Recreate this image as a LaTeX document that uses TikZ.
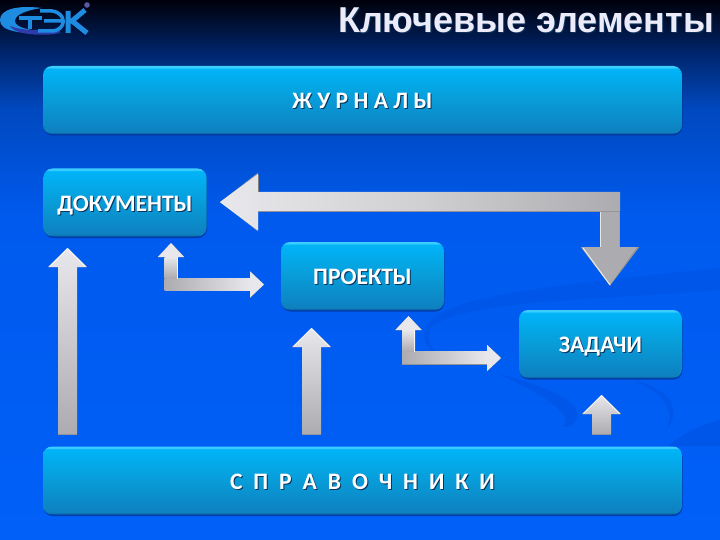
\documentclass[tikz,border=0pt]{standalone}
\usepackage{fontspec}
\setmainfont{Carlito}
\newfontfamily\titlefont{Liberation Sans}
\usetikzlibrary{arrows.meta,shadows}

\definecolor{swoosh}{RGB}{0,86,232}
\definecolor{arrowlight}{RGB}{232,232,236}
\definecolor{arrowmid}{RGB}{208,208,210}
\definecolor{arrowdark}{RGB}{172,172,176}
\definecolor{textshadow}{RGB}{10,50,90}
\definecolor{logoblue}{RGB}{30,140,225}
\definecolor{logodeep}{RGB}{45,60,170}
\definecolor{titletext}{RGB}{235,235,250}
\definecolor{backa}{RGB}{0,96,248}
\definecolor{backb}{RGB}{0,90,238}
\definecolor{backc}{RGB}{0,72,190}
\definecolor{backd}{RGB}{0,38,110}
\definecolor{backe}{RGB}{0,0,10}
\definecolor{boxa}{RGB}{12,98,165}
\definecolor{boxb}{RGB}{14,128,192}
\definecolor{boxc}{RGB}{8,156,216}
\definecolor{boxd}{RGB}{0,180,248}
\definecolor{boxe}{RGB}{60,205,255}
\definecolor{boxshadow}{RGB}{0,50,140}

\pgfdeclareverticalshading{slideback}{100bp}{color(0bp)=(backa); color(25bp)=(backa); color(55bp)=(backb); color(65bp)=(backc); color(70bp)=(backd); color(75bp)=(backe); color(100bp)=(backe)}
\pgfdeclareverticalshading{boxshade}{100bp}{color(0bp)=(boxa); color(25.5bp)=(boxa); color(26.5bp)=(boxb); color(50bp)=(boxc); color(73bp)=(boxd); color(74bp)=(boxe); color(100bp)=(boxe)}

\tikzstyle{slidebox}=[rectangle,rounded corners=9pt,shading=boxshade,minimum height=68pt,inner sep=0pt,text=white,text height=17.5pt,text depth=0pt,font=\fontsize{23.6}{26}\selectfont\bfseries,drop shadow={shadow xshift=0.5pt,shadow yshift=-1.5pt,fill=boxshadow,opacity=0.7}]
\tikzstyle{widebox}=[slidebox,minimum width=639pt]
\tikzstyle{smallbox}=[slidebox,minimum width=163pt]
\tikzstyle{blockline}=[draw=arrowdark!85!black]
\tikzset{sheen/.style={white,line width=1pt,opacity=0.8}}
\newcommand{\shadowed}[1]{\leavevmode\rlap{\color{textshadow}\kern1pt\raisebox{-1pt}{#1}}#1}
\newcommand{\gap}{\hspace{10.9pt}}

\begin{document}
\begin{tikzpicture}[x=1pt,y=-1pt]
  \useasboundingbox (0,0) rectangle (720,540);
  \shade[shading=slideback] (0,0) rectangle (720,540);

  % swooshes
  \fill[swoosh] (428,325) .. controls (440,300) and (520,288) .. (720,268) -- (720,290) .. controls (600,300) and (470,300) .. (432,326) .. controls (424,338) and (430,350) .. (445,358) .. controls (425,350) and (420,338) .. (428,325) -- cycle;
  \fill[swoosh] (497,373) .. controls (540,385) and (582,400) .. (577,417) .. controls (575,425) and (568,428) .. (563,427) .. controls (572,418) and (560,402) .. (497,373) -- cycle;
  \fill[swoosh] (633,380) .. controls (665,388) and (684,405) .. (667,430) .. controls (676,405) and (660,392) .. (633,380) -- cycle;
  \fill[swoosh] (720,420) .. controls (700,425) and (680,435) .. (668,446) -- (720,446) -- cycle;

  % logo
  \fill[logoblue] (42,8) .. controls (18,5) and (0,9) .. (0,20) .. controls (0,31) and (18,35) .. (62,33) .. controls (30,31) and (15,28) .. (15,21) .. controls (15,14) and (28,10) .. (42,8) -- cycle;
  \fill[logodeep] (10,26) .. controls (22,31) and (44,31) .. (60,29) .. controls (62,32) and (58,34) .. (50,34.5) .. controls (30,35.5) and (14,33) .. (10,26) -- cycle;
  \draw[logoblue,line width=4pt] (19,18) -- (42,18) (30,18) -- (30,29);
  \draw[logoblue,line width=3.5pt] (40,11) -- (52,11) .. controls (67,13) and (67,30) .. (52,31) -- (38,31) (44,21) -- (63,21);
  \draw[logoblue,line width=5pt] (68,11) -- (68,33) (85,10) -- (72,21) -- (87,33);
  \fill[gray!70!blue] (87,5) circle (2.8pt);

  \node[anchor=base east,inner sep=0pt,text=titletext,font=\titlefont\bfseries\fontsize{36}{40}\selectfont] (title) at (714,33) {\shadowed{Ключевые элементы}};

  \foreach \x/\y/\name/\label in {362.5/100/journals/{Ж У Р Н А Л Ы}, 362.5/480.5/refs/{С\gap П\gap Р\gap А\gap В\gap О\gap Ч\gap Н\gap И\gap К\gap И}}
          \node[widebox] (\name) at (\x,\y) {\shadowed{\label}};

  \foreach \x/\y/\name/\label in {125/202.5/docs/ДОКУМЕНТЫ, 362.5/276/projects/ПРОЕКТЫ, 600.5/344/tasks/ЗАДАЧИ}
          \node[smallbox] (\name) at (\x,\y) {\shadowed{\label}};

  % straight arrows
  \foreach \x/\ya/\yb/\name in {67.5/435/248/docsup, 311.5/435/328/projup, 601.5/435/395/tasksup}
  {
    \coordinate (\name a) at (\x,\ya);
    \coordinate (\name b) at (\x,\yb);
    \draw[blockline,line width=19pt,-{Triangle[length=19pt,width=38pt]}] (\name a) -- (\name b);
    \shade[top color=arrowlight,bottom color=arrowdark] (\x-9.5,\ya-1) -- (\x-9.5,\yb+19) -- (\x-19,\yb+19) -- (\x,\yb) -- (\x+19,\yb+19) -- (\x+9.5,\yb+19) -- (\x+9.5,\ya-1) -- cycle;
    \draw[sheen] (\x-18,\yb+18.5) -- (\x,\yb+0.5) -- (\x+18,\yb+18.5);
  }

  % long arrow
  \coordinate (longa) at (610,286);
  \coordinate (longb) at (220,202);
  \draw[blockline,line width=20pt,{Triangle[length=39pt,width=56pt]}-{Triangle[length=38pt,width=56pt]}] (longa) |- (longb);
  \shade[left color=arrowlight,right color=arrowdark,middle color=arrowmid] (220,202) -- (258,174) -- (258,192) -- (620,192) -- (620,211) -- (258,211) -- (258,230) -- cycle;
  \fill[arrowdark] (601,212) -- (619.5,212) -- (619.5,247) -- (637,247) -- (610,285) -- (582,247) -- (601,247) -- cycle;
  \draw[sheen] (600.5,212) -- (600.5,247);
  \draw[sheen] (583,248) -- (610,285);
  \draw[sheen,white,opacity=0.5] (220.5,202) -- (257.5,230);
  \draw[gray,line width=1pt] (258,175) -- (258,192);

  % elbow arrows
  \foreach \xa/\ya/\xb/\yb/\name in {171/243/264/284.5/elbowone, 408.5/316/501/358/elbowtwo}
  {
    \coordinate (\name a) at (\xa,\ya);
    \coordinate (\name b) at (\xb,\yb);
    \draw[blockline,line width=13pt,{Triangle[length=14pt,width=26pt]}-{Triangle[length=14pt,width=26pt]}] (\name a) |- (\name b);
    \shade[left color=arrowdark,right color=arrowlight] (\xa-6.5,\yb-6.5) rectangle (\xb-14,\yb+5.5);
    \shade[top color=arrowlight,bottom color=arrowdark] (\xa-6.5,\ya+14) rectangle (\xa+6.5,\yb-6.5);
    \fill[arrowlight] (\xa-13,\ya+14) -- (\xa,\ya) -- (\xa+13,\ya+14) -- cycle;
    \fill[arrowlight] (\xb-14,\yb-13) -- (\xb,\yb) -- (\xb-14,\yb+13) -- cycle;
    \draw[sheen] (\xa+6,\ya+14) -- (\xa+6,\yb-6);
  }
\end{tikzpicture}
\end{document}
